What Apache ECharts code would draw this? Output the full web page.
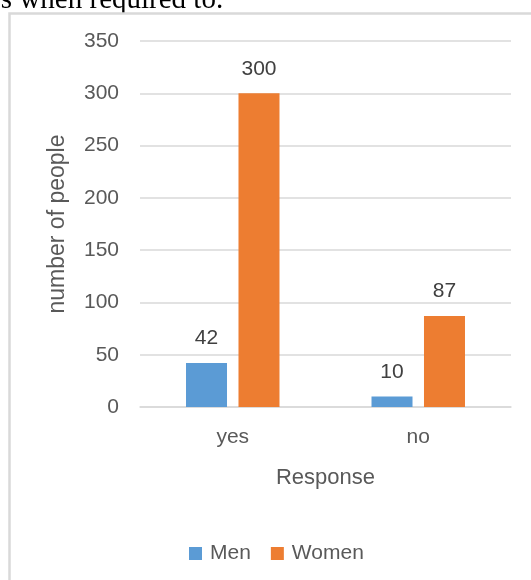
<!DOCTYPE html>
<html>
<head>
<meta charset="utf-8">
<script src="https://cdn.jsdelivr.net/npm/echarts@6/dist/echarts.min.js"></script>
<style>
  html, body { margin: 0; padding: 0; background: #fff; }
  #chart { width: 531px; height: 580px; }
</style>
</head>
<body>
<div id="chart"></div>
<script>
// survey responses, by gender
const categories = ['yes', 'no'];
const menValues = [42, 10];
const womenValues = [300, 87];
const yTicks = { min: 0, max: 350, interval: 50 };

const font = '"Liberation Sans", Arial, sans-serif';
const chart = echarts.init(document.getElementById('chart'), null, { renderer: 'canvas' });

const barLabel = {
  show: true,
  position: 'top',
  distance: 14,
  color: '#404040',
  fontSize: 21,
  fontFamily: font
};

chart.setOption({
  animation: false,
  backgroundColor: '#fff',
  graphic: [
    // bit of the paper's sentence cut off above the figure
    {
      type: 'text', left: -12, top: -14, silent: true,
      style: { text: 'es when required to.', font: '29px "Liberation Serif", serif', fill: '#000' }
    },
    // the chart frame
    {
      type: 'rect', left: 7, top: 11, silent: true,
      shape: { width: 560, height: 620 },
      style: { fill: 'none', stroke: '#d9d9d9', lineWidth: 2.5 }
    }
  ],
  grid: { left: 140, right: 20, top: 41, bottom: 173, containLabel: false },
  legend: {
    data: ['Men', 'Women'],
    left: 184,
    top: 538,
    icon: 'rect',
    itemWidth: 13,
    itemHeight: 13,
    itemGap: 20,
    textStyle: { color: '#595959', fontSize: 21, fontFamily: font, padding: [0, 0, 0, 3] }
  },
  xAxis: {
    type: 'category',
    data: categories,
    name: 'Response',
    nameLocation: 'middle',
    nameGap: 60,
    nameTextStyle: { color: '#595959', fontSize: 22, fontFamily: font },
    axisLine: { lineStyle: { color: '#d9d9d9', width: 1.5 } },
    axisTick: { show: false },
    axisLabel: { color: '#595959', fontSize: 21, fontFamily: font, margin: 20 }
  },
  yAxis: {
    type: 'value',
    min: yTicks.min,
    max: yTicks.max,
    interval: yTicks.interval,
    name: 'number of people',
    nameLocation: 'middle',
    nameGap: 71,
    nameTextStyle: { color: '#595959', fontSize: 23, fontFamily: font },
    axisLine: { show: false },
    axisTick: { show: false },
    axisLabel: { color: '#595959', fontSize: 21, fontFamily: font, margin: 21 },
    splitLine: { lineStyle: { color: '#d9d9d9', width: 1.5 } }
  },
  series: [
    {
      name: 'Men', type: 'bar', data: menValues,
      barWidth: 41, barGap: '28%',
      itemStyle: { color: '#5b9bd5' },
      label: barLabel
    },
    {
      name: 'Women', type: 'bar', data: womenValues,
      barWidth: 41,
      itemStyle: { color: '#ed7d31' },
      label: barLabel
    }
  ]
});
</script>
</body>
</html>
